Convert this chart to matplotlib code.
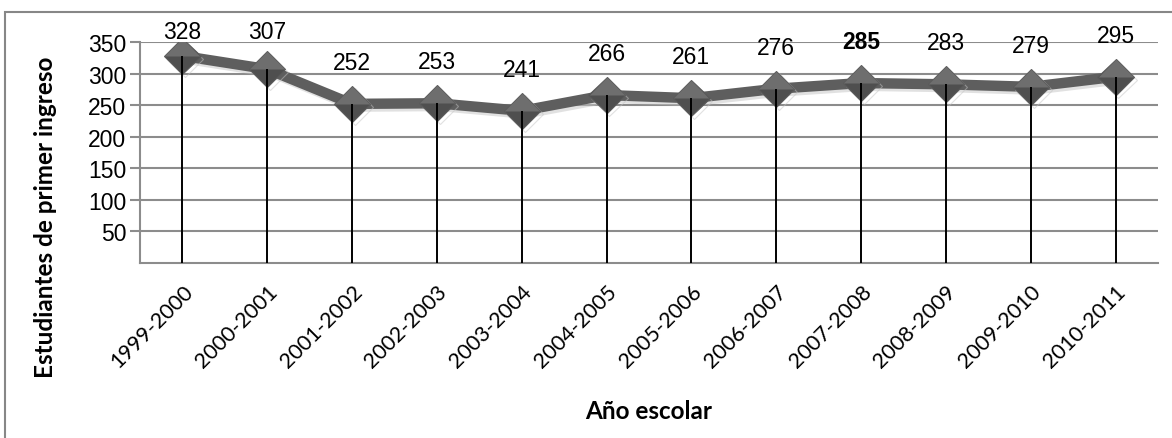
import matplotlib.pyplot as plt
import matplotlib.patheffects as pe
from matplotlib.patches import Rectangle
from matplotlib.path import Path

# ingreso por año escolar
anios = ['1999-2000', '2000-2001', '2001-2002', '2002-2003', '2003-2004',
         '2004-2005', '2005-2006', '2006-2007', '2007-2008', '2008-2009',
         '2009-2010', '2010-2011']
estudiantes = [328, 307, 252, 253, 241, 266, 261, 276, 285, 283, 279, 295]
yticks = [50, 100, 150, 200, 250, 300, 350]
destacado = '2007-2008'

fig = plt.figure(figsize=(11.72, 4.39), dpi=100)
ax = fig.add_axes([140/1172, 1 - 264/439, 1018/1172, 221/439])

x = list(range(len(anios)))

# linea con sombra suave
sombra = [pe.SimpleLineShadow(offset=(2, -2), shadow_color='#c4c4c4', alpha=0.5), pe.Normal()]
ax.plot(x, estudiantes, color='#5e5e5e', lw=7.5, zorder=3, path_effects=sombra)
ax.plot(x, estudiantes, ls='none', marker='D', ms=18.5, mfc='#4f4f4f', mec='#5a5a5a',
        mew=0.8, zorder=4, path_effects=sombra)
# mitad superior del rombo mas clara
mitad = Path([(-1, 0), (0, 1), (1, 0), (-1, 0)], closed=True)
ax.plot(x, estudiantes, ls='none', marker=mitad, ms=25.5, mfc='#6e6e6e', mec='none', zorder=4)
ax.vlines(x, 0, estudiantes, color='black', lw=1.4, zorder=5)

for i, v in enumerate(estudiantes):
    ax.text(i, min(v + 66, 366), str(v), ha='center', va='center',
            fontsize=16.5, family='Liberation Sans',
            fontweight='bold' if anios[i] == destacado else 'normal')

ax.set_xlim(-0.5, len(anios) - 0.5)
ax.set_ylim(0, 350)
ax.set_yticks(yticks)
ax.set_yticklabels([str(t) for t in yticks], fontsize=16.5, family='Liberation Sans')
ax.set_xticks(x)
ax.set_xticklabels(anios, rotation=45, ha='right', va='top', rotation_mode='anchor',
                   fontsize=15.5, family='Lato')
ax.tick_params(axis='x', length=0, pad=13)
ax.tick_params(axis='y', length=7, color='#8c8c8c', width=1.5, pad=3)
ax.grid(axis='y', color='#8c8c8c', lw=1.5)
ax.set_axisbelow(True)
for s in ['top', 'right']:
    ax.spines[s].set_visible(False)
for s in ['left', 'bottom']:
    ax.spines[s].set_color('#8c8c8c')
    ax.spines[s].set_linewidth(1.5)

ax.set_ylabel('Estudiantes de primer ingreso', fontsize=17.5, fontweight='bold',
              family='Lato')
ax.yaxis.set_label_coords((57 - 140) / 1018, 0.21)
ax.set_xlabel('Año escolar', fontsize=17.5, fontweight='bold', family='Lato')
ax.xaxis.set_label_coords(0.5, -(400 - 264) / 221)

fig.patches.append(Rectangle((5/1172, -0.05), 1.1, 1.05 - 13/439, transform=fig.transFigure,
                             fill=False, ec='#878787', lw=1.5))

fig.savefig('out.png', dpi=100)
